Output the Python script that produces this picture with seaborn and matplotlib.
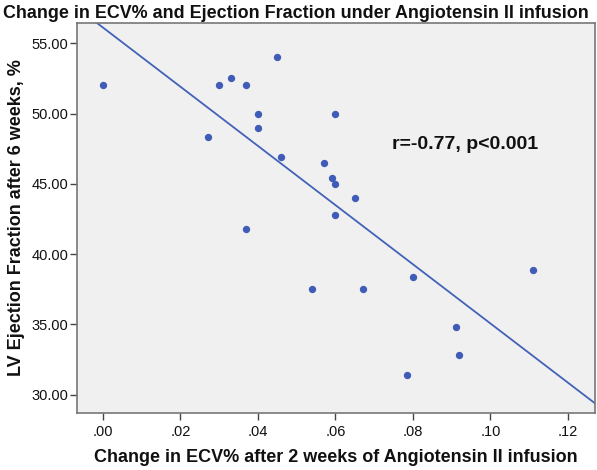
import numpy as np
import pandas as pd
import seaborn as sns
import matplotlib.pyplot as plt

# valeurs
ecv_change = [0.000, 0.027, 0.030, 0.033, 0.037, 0.040, 0.040, 0.045, 0.046, 0.037,
              0.060, 0.057, 0.059, 0.060, 0.065, 0.060,
              0.054, 0.067, 0.080, 0.111, 0.091, 0.092, 0.0785]
lvef = [52.0, 48.3, 52.0, 52.5, 52.0, 50.0, 49.0, 54.0, 46.9, 41.8,
        50.0, 46.5, 45.4, 45.0, 44.0, 42.8,
        37.5, 37.5, 38.4, 38.9, 34.8, 32.8, 31.4]

x_ticks = [0.00, 0.02, 0.04, 0.06, 0.08, 0.10, 0.12]
y_ticks = [30, 35, 40, 45, 50, 55]

df = pd.DataFrame({'ecv': ecv_change, 'ef': lvef})

sns.set_theme(style="white")
plt.rcParams['font.family'] = ['Liberation Sans', 'DejaVu Sans']
plt.rcParams['text.color'] = '#111111'
plt.rcParams['axes.labelcolor'] = '#111111'

fig = plt.figure(figsize=(5.97, 4.70), dpi=100)
ax = fig.add_axes([77 / 597, 1 - 413 / 470, 518 / 597, 390 / 470])
ax.set_facecolor('#f0f0f0')

ax.set_xlim(-0.0067, 0.127)
ax.set_ylim(28.7, 56.44)

blue = '#3e5cb8'
sns.regplot(data=df, x='ecv', y='ef', ax=ax, ci=None, truncate=False,
            scatter_kws={'s': 28, 'color': blue, 'linewidths': 0, 'alpha': 1},
            line_kws={'color': '#4361b8', 'linewidth': 1.3})

ax.set_xlim(-0.0067, 0.127)
ax.set_ylim(28.7, 56.44)
ax.set_xticks(x_ticks)
ax.set_xticklabels([f"{v:.2f}".lstrip('0') for v in x_ticks])
ax.set_yticks(y_ticks)
ax.set_yticklabels([f"{v:.2f}" for v in y_ticks])
ax.tick_params(axis='both', direction='out', length=5, width=1, color='#444444',
               labelsize=10.5, labelcolor='#111111', bottom=True, left=True)
ax.tick_params(axis='y', pad=1)
ax.tick_params(axis='x', pad=4)
for s in ax.spines.values():
    s.set_color('#777777')
    s.set_linewidth(1.2)

ax.set_xlabel("Change in ECV% after 2 weeks of Angiotensin II infusion",
              fontsize=13, fontweight='bold', labelpad=7)
ax.set_ylabel("LV Ejection Fraction after 6 weeks, %",
              fontsize=13, fontweight='bold', labelpad=5)

ax.text(0.0746, 47.77, "r=-0.77, p<0.001", fontsize=14, fontweight='bold',
        va='center', ha='left')

fig.text(3 / 597, 1 - 13 / 470, "Change in ECV% and Ejection Fraction under Angiotensin II infusion",
         fontsize=12.9, fontweight='bold', va='center', ha='left')

plt.savefig("out.png", dpi=100)
